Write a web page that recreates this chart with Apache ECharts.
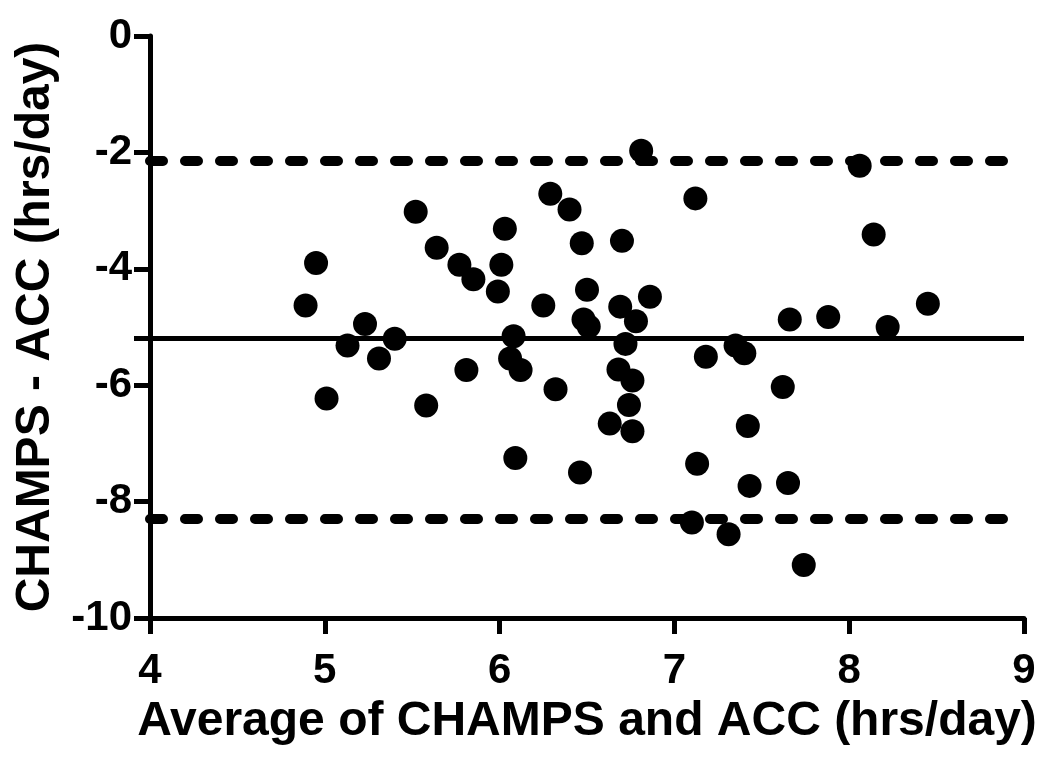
<!DOCTYPE html>
<html>
<head>
<meta charset="utf-8">
<script src="https://cdn.jsdelivr.net/npm/echarts@6/dist/echarts.min.js"></script>
<style>
  html, body { margin: 0; padding: 0; background: #fff; }
  #chart { width: 1050px; height: 770px; }
</style>
</head>
<body>
<div id="chart"></div>
<script>
// average of the two methods (hrs/day)
const avgVals = [4.89, 4.95, 5.01, 5.13, 5.23, 5.31, 5.40, 5.52, 5.58, 5.64,
  5.77, 5.81, 5.85, 5.99, 6.01, 6.03, 6.06, 6.08, 6.09, 6.12,
  6.25, 6.29, 6.32, 6.40, 6.46, 6.47, 6.48, 6.50, 6.51, 6.63,
  6.68, 6.69, 6.70, 6.72, 6.74, 6.76, 6.76, 6.78, 6.81, 6.86,
  7.10, 7.12, 7.13, 7.18, 7.31, 7.35, 7.40, 7.42, 7.43, 7.62,
  7.65, 7.66, 7.74, 7.88, 8.06, 8.14, 8.22, 8.45];
// CHAMPS - ACC difference (hrs/day)
const diffVals = [-4.63, -3.90, -6.23, -5.32, -4.95, -5.54, -5.20, -3.02, -6.35, -3.64,
  -3.93, -5.74, -4.18, -4.39, -3.93, -3.31, -5.54, -5.16, -7.25, -5.74,
  -4.63, -2.71, -6.07, -2.98, -7.50, -3.56, -4.87, -4.36, -4.99, -6.66,
  -5.73, -4.65, -3.52, -5.29, -6.34, -5.92, -6.79, -4.90, -1.97, -4.48,
  -8.36, -2.79, -7.35, -5.51, -8.56, -5.32, -5.45, -6.70, -7.73, -6.03,
  -7.68, -4.87, -9.09, -4.83, -2.23, -3.41, -5.00, -4.60];
const meanDiff = -5.2;
const limits = [-2.15, -8.29];
const xTicks = [4, 5, 6, 7, 8, 9];
const yTicks = [0, -2, -4, -6, -8, -10];

const font = "'Liberation Sans', Arial, sans-serif";
const points = avgVals.map((v, i) => [v, diffVals[i]]);

const chart = echarts.init(document.getElementById('chart'));
chart.setOption({
  animation: false,
  grid: { left: 150, right: 26, top: 36, bottom: 152 },
  xAxis: {
    type: 'value',
    min: xTicks[0],
    max: xTicks[xTicks.length - 1],
    interval: 1,
    name: 'Average of CHAMPS and ACC (hrs/day)',
    nameLocation: 'middle',
    nameGap: 80,
    nameTextStyle: { fontFamily: font, fontWeight: 'bold', fontSize: 48, color: '#000' },
    axisLine: { show: true, onZero: false, lineStyle: { color: '#000', width: 5 } },
    axisTick: { show: true, length: 16, lineStyle: { color: '#000', width: 5 } },
    axisLabel: { fontFamily: font, fontWeight: 'bold', fontSize: 42, color: '#000', margin: 32 },
    splitLine: { show: false }
  },
  yAxis: {
    type: 'value',
    min: yTicks[yTicks.length - 1],
    max: yTicks[0],
    interval: 2,
    name: 'CHAMPS - ACC (hrs/day)',
    nameLocation: 'middle',
    nameGap: 90,
    nameTextStyle: { fontFamily: font, fontWeight: 'bold', fontSize: 48, color: '#000' },
    axisLine: { show: true, onZero: false, lineStyle: { color: '#000', width: 5 } },
    // the mean line pokes out past the axis like a tick
    axisTick: { show: true, length: 16, customValues: yTicks.concat([meanDiff]), lineStyle: { color: '#000', width: 5 } },
    axisLabel: { fontFamily: font, fontWeight: 'bold', fontSize: 42, color: '#000', margin: 18, customValues: yTicks },
    splitLine: { show: false }
  },
  series: [{
    type: 'scatter',
    data: points,
    symbol: 'circle',
    symbolSize: 24,
    itemStyle: { color: '#000', opacity: 1 },
    markLine: {
      silent: true,
      symbol: 'none',
      label: { show: false },
      data: [
        { yAxis: meanDiff, lineStyle: { type: 'solid', width: 5, color: '#000' } },
        { yAxis: limits[0], lineStyle: { type: [13, 22], width: 10, cap: 'round', color: '#000' } },
        { yAxis: limits[1], lineStyle: { type: [13, 22], width: 10, cap: 'round', color: '#000' } }
      ]
    }
  }]
});
</script>
</body>
</html>
